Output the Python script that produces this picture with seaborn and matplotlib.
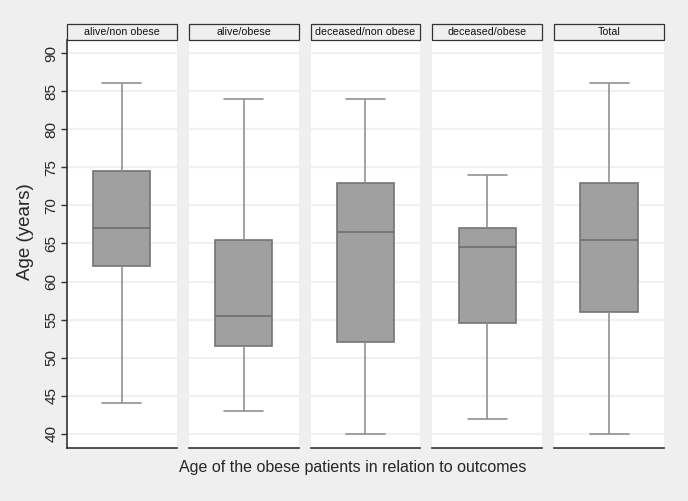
import matplotlib
matplotlib.use("Agg")
import matplotlib.pyplot as plt
import seaborn as sns
import pandas as pd
import numpy as np
from matplotlib.patches import Rectangle

groups = ["alive/non obese", "alive/obese", "deceased/non obese", "deceased/obese", "Total"]
whisker_low = [44, 43, 40, 42, 40]
q1 = [62, 51.5, 52, 54.5, 56]
median = [67, 55.5, 66.5, 64.5, 65.5]
q3 = [74.5, 65.5, 73, 67, 73]
whisker_high = [86, 84, 84, 74, 86]
yticks = [40, 45, 50, 55, 60, 65, 70, 75, 80, 85, 90]

rows = []
for g, a, b, c, d, e in zip(groups, whisker_low, q1, median, q3, whisker_high):
    for v in (a, b, c, d, e):
        rows.append({"group": g, "age": v})
df = pd.DataFrame(rows)

sns.set_theme(style="white")
plt.rcParams["font.family"] = ["Liberation Sans", "DejaVu Sans"]

bg = "#EFEFEF"
fig, axes = plt.subplots(1, 5, sharey=True, figsize=(6.88, 5.01), dpi=100)
fig.patch.set_facecolor(bg)
fig.subplots_adjust(left=0.0974, right=0.965, bottom=0.1058, top=0.920, wspace=0.109)

for i, (ax, g) in enumerate(zip(axes, groups)):
    ax.set_facecolor("white")
    for y in yticks:
        ax.axhline(y, color="#F1F1F1", lw=1.6, zorder=0)
    sns.boxplot(data=df[df["group"] == g], y="age", ax=ax, whis=(0, 100), width=0.52,
                color="#A0A0A0", linecolor="#747474", linewidth=1.2, saturation=1,
                whiskerprops={"color": "#929292"}, capprops={"color": "#929292"},
                medianprops={"color": "#6E6E6E"}, capwidths=0.355)
    ax.set_xlim(-0.5, 0.5)
    ax.set_ylim(38.15, 91.7)
    ax.set_xticks([])
    ax.set_xlabel("")
    ax.set_ylabel("")
    for s in ("top", "right", "left"):
        ax.spines[s].set_visible(False)
    ax.spines["bottom"].set_visible(True)
    ax.spines["bottom"].set_color("#333333")
    ax.spines["bottom"].set_linewidth(1.2)
    rect = Rectangle((0, 1.0), 1, 0.039, transform=ax.transAxes, clip_on=False,
                     facecolor="#EFEFEF", edgecolor="#333333", lw=0.9)
    ax.add_patch(rect)
    ax.text(0.5, 1.0195, g, transform=ax.transAxes, ha="center", va="center",
            fontsize=7.7, color="#111111")
    if i == 0:
        ax.spines["left"].set_visible(True)
        ax.spines["left"].set_color("#333333")
        ax.spines["left"].set_linewidth(1.2)
        ax.set_yticks(yticks)
        ax.set_yticklabels([str(t) for t in yticks], rotation=90, va="center", fontsize=11)
        ax.tick_params(axis="y", left=True, length=4, width=1, color="#333333", pad=2)
    else:
        ax.tick_params(axis="y", left=False)

fig.text(0.037, 0.537, "Age (years)", rotation=90, ha="center", va="center", fontsize=13.5)
fig.text(0.513, 0.067, "Age of the obese patients in relation to outcomes", ha="center",
         va="center", fontsize=11.5)

fig.savefig("out.png", dpi=100, facecolor=bg)
